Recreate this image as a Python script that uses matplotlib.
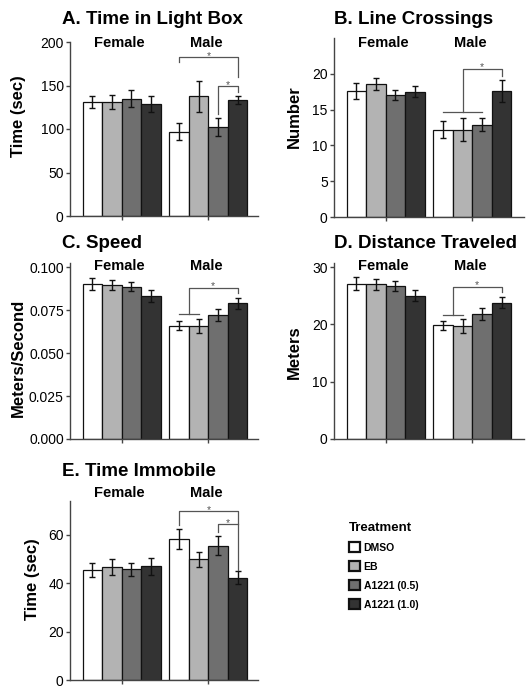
import numpy as np
import matplotlib
matplotlib.use('Agg')
import matplotlib.pyplot as plt
from matplotlib.patches import Patch

plt.rcParams['font.family'] = ['Liberation Sans', 'DejaVu Sans']

W, H = 532, 694

treatments = ['DMSO', 'EB', 'A1221 (0.5)', 'A1221 (1.0)']
bar_colors = ['#ffffff', '#b3b3b3', '#6f6f6f', '#333333']
groups = ['Female', 'Male']

# means and error bars, female DMSO..A1221(1.0) then male
light_mean = [131, 131, 135, 128.5, 97, 137.5, 102.5, 133.5]
light_err = [6.5, 8.5, 9.5, 9.5, 10, 17.5, 10, 5]
cross_mean = [17.6, 18.6, 17.1, 17.5, 12.2, 12.2, 12.9, 17.6]
cross_err = [1.05, 0.85, 0.7, 0.75, 1.15, 1.6, 0.9, 1.6]
speed_mean = [0.0901, 0.0898, 0.0888, 0.0831, 0.0660, 0.0656, 0.0724, 0.0790]
speed_err = [0.0036, 0.0030, 0.0027, 0.0034, 0.0026, 0.0040, 0.0036, 0.0033]
dist_mean = [27.1, 26.95, 26.7, 25.0, 19.8, 19.7, 21.75, 23.75]
dist_err = [1.1, 0.9, 0.8, 1.0, 0.8, 1.15, 1.05, 0.95]
immob_mean = [45.5, 46.8, 45.7, 47.0, 58.3, 50.0, 55.5, 42.3]
immob_err = [3.0, 3.2, 2.6, 3.4, 4.1, 3.1, 4.0, 2.7]

# bar positions: 4 female bars, small gap, 4 male bars
pos = np.r_[np.arange(4), np.arange(4) + 4.45]
group_pos = [1.5, 5.95]


def rect(l, r, b, t):
    return [l / W, 1 - b / H, (r - l) / W, (b - t) / H]


# significance brackets: (xs, ys) polylines and star positions (baseline)
panels = [
    dict(title='A. Time in Light Box', ylabel='Time (sec)', box=(70, 258, 216, 42),
         ylim=200, ticks=[0, 50, 100, 150, 200], fmt='%d', lab=(26, 116), gy=43,
         mean=light_mean, err=light_err, tx=62, ty=19,
         lines=[([4.45, 4.45, 7.45, 7.45], [177, 183, 183, 160]),
                ([6.45, 6.45, 7.45, 7.45], [117, 150, 150, 143])],
         stars=[(5.95, 180), (6.95, 147)]),
    dict(title='B. Line Crossings', ylabel='Number', box=(334, 524, 217, 38),
         ylim=25, ticks=[0, 5, 10, 15, 20], fmt='%d', lab=(302, 117), gy=43,
         mean=cross_mean, err=cross_err, tx=334, ty=19,
         lines=[([4.45, 6.45], [14.7, 14.7]),
                ([5.45, 5.45, 7.45, 7.45], [14.7, 20.65, 20.65, 19.7])],
         stars=[(6.45, 20.45)]),
    dict(title='C. Speed', ylabel='Meters/Second', box=(70, 258, 439, 263),
         ylim=0.1025, ticks=[0, 0.025, 0.05, 0.075, 0.1], fmt='%.3f', lab=(26, 358), gy=266,
         mean=speed_mean, err=speed_err, tx=62, ty=243,
         lines=[([4.45, 5.45], [0.0726, 0.0726]),
                ([4.95, 4.95, 7.45, 7.45], [0.0726, 0.0878, 0.0878, 0.0853])],
         stars=[(6.2, 0.0875)]),
    dict(title='D. Distance Traveled', ylabel='Meters', box=(334, 524, 439, 263),
         ylim=30.7, ticks=[0, 10, 20, 30], fmt='%d', lab=(302, 352), gy=266,
         mean=dist_mean, err=dist_err, tx=334, ty=243,
         lines=[([4.45, 5.45], [21.6, 21.6]),
                ([4.95, 4.95, 7.45, 7.45], [21.6, 26.5, 26.5, 25.7])],
         stars=[(6.2, 26.4)]),
    dict(title='E. Time Immobile', ylabel='Time (sec)', box=(70, 258, 680, 501),
         ylim=74, ticks=[0, 20, 40, 60], fmt='%d', lab=(40, 579), gy=493,
         mean=immob_mean, err=immob_err, tx=62, ty=472,
         lines=[([4.45, 4.45, 7.45, 7.45], [64, 70, 70, 45.4]),
                ([6.45, 6.45, 7.45], [61.3, 64.4, 64.4])],
         stars=[(5.95, 69.2), (6.95, 63.8)]),
]

fig = plt.figure(figsize=(W / 100, H / 100), dpi=100)

for p in panels:
    l, r, b, t = p['box']
    ax = fig.add_axes(rect(l, r, b, t))
    ax.bar(pos, p['mean'], width=1.0, color=bar_colors * 2,
           edgecolor='#111111', linewidth=0.9, zorder=2)
    ax.errorbar(pos, p['mean'], yerr=p['err'], fmt='none', ecolor='#111111',
                elinewidth=1.0, capsize=2.2, capthick=1.0, zorder=3)
    ax.set_xlim(-1.15, -1.15 + (r - l) / 19.5)
    ax.set_ylim(0, p['ylim'])
    ax.set_yticks(p['ticks'])
    ax.set_yticklabels([p['fmt'] % v for v in p['ticks']])
    ax.set_xticks(group_pos)
    ax.set_xticklabels([])
    for s in ['top', 'right']:
        ax.spines[s].set_visible(False)
    for s in ['left', 'bottom']:
        ax.spines[s].set_color('#444444')
        ax.spines[s].set_linewidth(1.0)
    ax.tick_params(axis='both', direction='out', length=3, width=1.0,
                   color='#444444', labelsize=10, pad=1.5)
    ax.set_ylabel(p['ylabel'], fontsize=12, fontweight='bold')
    lx, ly = p['lab']
    ax.yaxis.set_label_coords((lx - l) / (r - l), (b - ly) / (b - t))
    gy = (b - p['gy']) / (b - t)
    for g, gx in zip(groups, group_pos):
        ax.text(gx - 0.1, gy, g, transform=ax.get_xaxis_transform(),
                ha='center', va='center', fontsize=10.5, fontweight='bold')
    for xs, ys in p['lines']:
        ax.plot(xs, ys, color='#555555', linewidth=0.9, zorder=4, clip_on=False)
    for sx, sy in p['stars']:
        ax.text(sx, sy, '*', ha='center', va='baseline', fontsize=7.5, color='#555555')
    fig.text(p['tx'] / W, 1 - p['ty'] / H, p['title'], ha='left', va='center',
             fontsize=13.5, fontweight='bold')

handles = [Patch(facecolor=c, edgecolor='#111111', linewidth=1.6) for c in bar_colors]
fig.legend(handles, treatments, loc='upper left', bbox_to_anchor=(349 / W, 1 - 522 / H),
           frameon=False, title='Treatment', alignment='left',
           title_fontproperties={'weight': 'bold', 'size': 9.5},
           prop={'weight': 'bold', 'size': 7.5}, handlelength=1.1, handleheight=1.1,
           handletextpad=0.3, labelspacing=0.8, borderpad=0, borderaxespad=0)

fig.savefig('out.png', dpi=100)
